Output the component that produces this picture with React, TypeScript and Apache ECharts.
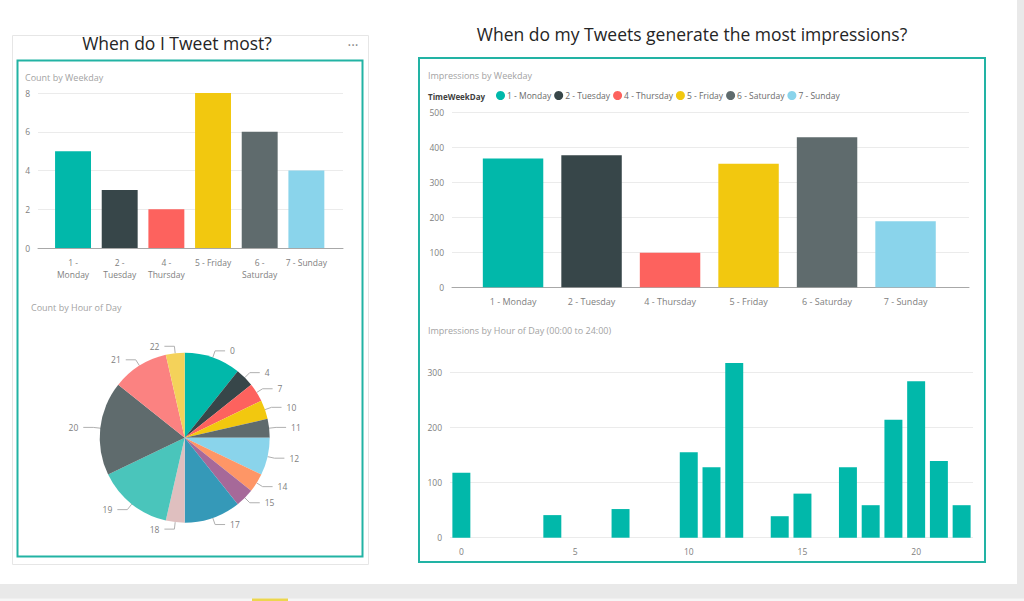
import React, { useEffect, useRef } from "react";
import * as echarts from "echarts";

const weekdays = ["1 - Monday", "2 - Tuesday", "4 - Thursday", "5 - Friday", "6 - Saturday", "7 - Sunday"];
const weekdayTickLabels = ["1 -\nMonday", "2 -\nTuesday", "4 -\nThursday", "5 - Friday", "6 -\nSaturday", "7 - Sunday"];
const weekdayColors = ["#01B8AA", "#374649", "#FD625E", "#F2C80F", "#5F6B6D", "#8AD4EB"];
const tweetCounts = [5, 3, 2, 8, 6, 4];

const hourSliceNames = ["0", "4", "7", "10", "11", "12", "14", "15", "17", "18", "19", "20", "21", "22"];
const hourSliceCounts = [3, 1, 1, 1, 1, 2, 1, 1, 3, 1, 4, 5, 3, 1];
const pieColors = ["#01B8AA", "#374649", "#FD625E", "#F2C80F", "#5F6B6D", "#8AD4EB", "#FE9666", "#A66999", "#3599B8", "#DFBFBF", "#4AC5BB", "#5F6B6D", "#FB8281", "#F4D25A"];

const impressionsByWeekday = [368, 377, 99, 353, 429, 189];

const hours = ["0", "1", "2", "3", "4", "5", "6", "7", "8", "9", "10", "11", "12", "13", "14", "15", "16", "17", "18", "19", "20", "21", "22"];
const impressionsByHour = [118, null, null, null, 41, null, null, 52, null, null, 155, 128, 317, null, 39, 80, null, 128, 59, 214, 284, 139, 59];

const FONT = "'Open Sans', 'Noto Sans', sans-serif";
const TICK = "#808080";
const SUB = "#a3a3a3";
const GRIDC = "#ebebeb";
const AXISC = "#a8a8a8";
const TEAL = "#22b3a4";

export default function App() {
  const ref = useRef<HTMLDivElement>(null);
  useEffect(() => {
    if (!ref.current) return;
    const chart = echarts.init(ref.current, undefined, { renderer: "svg" });

    const outerX = (gridIndex: number, showLine: boolean) => ({
      type: "value",
      gridIndex,
      min: 0,
      max: 1,
      axisLine: { show: showLine, lineStyle: { color: AXISC, width: 1 } },
      axisTick: { show: false },
      axisLabel: { show: false },
      splitLine: { show: false },
    });
    const outerY = (gridIndex: number, max: number, interval: number, hideMax = false) => ({
      type: "value",
      gridIndex,
      min: 0,
      max,
      interval,
      axisLine: { show: false },
      axisTick: { show: false },
      axisLabel: { color: TICK, fontSize: 8.5, fontFamily: FONT, margin: 8, showMaxLabel: !hideMax },
      splitLine: { lineStyle: { color: GRIDC, width: 1 }, showMaxLine: !hideMax },
    });
    const innerY = (gridIndex: number, max: number) => ({
      type: "value",
      gridIndex,
      min: 0,
      max,
      show: false,
      splitLine: { show: false },
    });
    const innerX = (gridIndex: number, data: string[], size: number) => ({
      type: "category",
      gridIndex,
      data,
      axisLine: { show: false },
      axisTick: { show: false },
      axisLabel: { color: TICK, fontSize: size, fontFamily: FONT, margin: 8, lineHeight: 12, interval: 0 },
      splitLine: { show: false },
    });

    const text = (x: number, y: number, t: string, size: number, color: string, align = "left", weight = "normal") => ({
      type: "text",
      x,
      y,
      style: { text: t, fontSize: size, fill: color, fontFamily: FONT, fontWeight: weight, align, verticalAlign: "middle" },
    });

    chart.setOption({
      animation: false,
      backgroundColor: "#ffffff",
      textStyle: { fontFamily: FONT },
      grid: [
        { left: 38, top: 93, width: 305, height: 155 },
        { left: 49.7, top: 93, width: 280, height: 155 },
        { left: 452, top: 112.3, width: 517, height: 175 },
        { left: 473.8, top: 112.3, width: 471, height: 175 },
        { left: 450, top: 355.9, width: 523, height: 181.8 },
      ],
      xAxis: [
        outerX(0, true),
        innerX(1, weekdayTickLabels, 8.5),
        outerX(2, true),
        innerX(3, weekdays, 9),
        {
          type: "category",
          gridIndex: 4,
          data: hours,
          axisLine: { show: false },
          axisTick: { show: false },
          axisLabel: { color: TICK, fontSize: 8.5, fontFamily: FONT, margin: 9, interval: 4 },
        },
      ],
      yAxis: [
        outerY(0, 8, 2),
        innerY(1, 8),
        outerY(2, 500, 100),
        innerY(3, 500),
        outerY(4, 330, 100, true),
      ],
      legend: {
        left: 496,
        top: 91,
        icon: "circle",
        itemWidth: 9,
        itemHeight: 9,
        itemGap: 3,
        padding: 0,
        textStyle: { color: "#6a6a6a", fontSize: 8.5, fontFamily: FONT, padding: [0, 0, 0, -3] },
        data: weekdays,
      },
      series: [
        {
          type: "bar",
          xAxisIndex: 1,
          yAxisIndex: 1,
          barCategoryGap: "23%",
          data: tweetCounts.map((v, i) => ({ value: v, itemStyle: { color: weekdayColors[i] } })),
        },
        {
          type: "pie",
          center: [184.7, 437.7],
          radius: 85,
          startAngle: 90,
          clockwise: true,
          avoidLabelOverlap: true,
          label: { color: TICK, fontSize: 8.5, fontFamily: FONT },
          labelLine: { length: 7, length2: 10, lineStyle: { color: "#b0b0b0", width: 1 } },
          itemStyle: { borderWidth: 0 },
          data: hourSliceNames.map((n, i) => ({ name: n, value: hourSliceCounts[i], itemStyle: { color: pieColors[i] } })),
        },
        ...weekdays.map((name, i) => ({
          type: "bar",
          name,
          xAxisIndex: 3,
          yAxisIndex: 3,
          stack: "w",
          barCategoryGap: "23%",
          itemStyle: { color: weekdayColors[i] },
          data: weekdays.map((_, j) => (j === i ? impressionsByWeekday[i] : "-")),
        })),
        {
          type: "bar",
          xAxisIndex: 4,
          yAxisIndex: 4,
          barCategoryGap: "21%",
          itemStyle: { color: "#01B8AA" },
          data: impressionsByHour.map((v) => (v === null ? "-" : v)),
        },
      ],
      graphic: [
        { type: "rect", shape: { x: 1017, y: 0, width: 7, height: 601 }, style: { fill: "#e9e9e9" }, z: -10 },
        { type: "rect", shape: { x: 0, y: 584, width: 1024, height: 17 }, style: { fill: "#e9e9e9" }, z: -10 },
        { type: "rect", shape: { x: 0, y: 598.5, width: 1024, height: 2.5 }, style: { fill: "#f6f6f6" }, z: -9 },
        { type: "rect", shape: { x: 252, y: 598.5, width: 36, height: 2.5 }, style: { fill: "#ecd64e" }, z: -8 },
        { type: "rect", shape: { x: 12.5, y: 35.5, width: 356, height: 529 }, style: { fill: "#ffffff", stroke: "#e6e6e6", lineWidth: 1 }, z: -5 },
        { type: "rect", shape: { x: 17.5, y: 60.5, width: 345, height: 496 }, style: { fill: "none", stroke: TEAL, lineWidth: 2 }, z: -4 },
        { type: "rect", shape: { x: 419, y: 58, width: 566, height: 504 }, style: { fill: "none", stroke: TEAL, lineWidth: 2 }, z: -4 },
        text(177, 43, "When do I Tweet most?", 17.5, "#252525", "center"),
        text(692, 34, "When do my Tweets generate the most impressions?", 17.5, "#252525", "center"),
        text(353, 44, "···", 14, "#8a8a8a", "center"),
        text(25, 77, "Count by Weekday", 9, SUB),
        text(31, 307.5, "Count by Hour of Day", 9, SUB),
        text(428, 75, "Impressions by Weekday", 9, SUB),
        text(428, 96, "TimeWeekDay", 8, "#404040", "left", "bold"),
        text(428, 330, "Impressions by Hour of Day (00:00 to 24:00)", 9, SUB),
      ],
    });
    return () => chart.dispose();
  }, []);
  return <div ref={ref} style={{ position: "fixed", left: 0, top: 0, width: 1024, height: 601 }} />;
}
